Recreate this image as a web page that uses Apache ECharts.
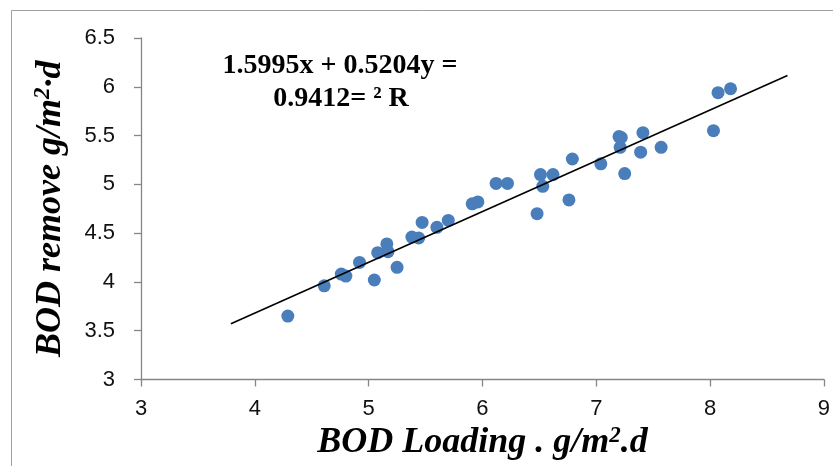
<!DOCTYPE html>
<html><head><meta charset="utf-8">
<script src="https://cdn.jsdelivr.net/npm/echarts@6/dist/echarts.min.js"></script>
<style>html,body{margin:0;padding:0;background:#fff}#c{width:833px;height:466px}</style>
</head><body><div id="c"></div>
<script>
const bodLoading = [4.29,4.61,4.76,4.80,4.92,5.05,5.08,5.16,5.17,5.25,5.38,5.44,5.47,5.60,5.70,5.91,5.96,6.12,6.22,6.48,6.51,6.53,6.62,6.76,6.79,7.04,7.20,7.22,7.21,7.25,7.39,7.41,7.57,8.03,8.07,8.18];
const bodRemove  = [3.65,3.96,4.08,4.06,4.20,4.02,4.30,4.39,4.31,4.15,4.46,4.45,4.61,4.56,4.63,4.80,4.82,5.01,5.01,4.70,5.10,4.98,5.10,4.84,5.26,5.21,5.49,5.48,5.38,5.11,5.33,5.53,5.38,5.55,5.94,5.98];
const trendSlope = 0.5204;
const trendIntercept = 1.5995;
const trendRange = [3.79, 8.68];
const xTicks = [3,4,5,6,7,8,9];
const yTicks = [3,3.5,4,4.5,5,5.5,6,6.5];
const eqLine1 = '1.5995x + 0.5204y =';
const eqLine2 = '0.9412= ² R';

const points = bodLoading.map((x,i)=>[x, bodRemove[i]]);
const trend = trendRange.map(x=>[x, trendSlope*x + trendIntercept]);

const chart = echarts.init(document.getElementById('c'));
const titleRich = {
  t:{fontFamily:'Liberation Serif',fontWeight:'bold',fontStyle:'italic',fontSize:36,color:'#000'},
  s:{fontFamily:'Liberation Serif',fontWeight:'bold',fontStyle:'italic',fontSize:23,color:'#000',verticalAlign:'top',padding:[0,0,14,0]}
};
const eqStyle = {fontFamily:'Liberation Serif',fontWeight:'bold',fontSize:28,fill:'#000',align:'center',verticalAlign:'middle'};
chart.setOption({
  animation:false,
  grid:{left:141,top:38,width:684,height:343},
  graphic:[
    {type:'rect',shape:{x:11.5,y:10.5,width:840,height:470},style:{fill:'none',stroke:'#a0a0a0',lineWidth:1},silent:true},
    {type:'text',x:340,y:66,style:Object.assign({text:eqLine1},eqStyle),silent:true},
    {type:'text',x:341,y:99,style:Object.assign({text:eqLine2},eqStyle),silent:true}
  ],
  xAxis:{type:'value',min:xTicks[0],max:xTicks[xTicks.length-1],interval:1,
    axisLine:{show:true,lineStyle:{color:'#868686',width:1.3}},
    axisTick:{show:true,inside:false,length:7,lineStyle:{color:'#868686',width:1.3}},
    splitLine:{show:false},
    axisLabel:{fontFamily:'Liberation Sans',fontSize:22,color:'#111',margin:18},
    name:'{t|BOD Loading . g/m}{s|2}{t|.d}',nameLocation:'middle',nameGap:45,
    nameTextStyle:{rich:titleRich}
  },
  yAxis:{type:'value',min:yTicks[0],max:yTicks[yTicks.length-1],interval:0.5,
    axisLine:{show:true,onZero:false,lineStyle:{color:'#868686',width:1.3}},
    axisTick:{show:true,inside:false,length:7,lineStyle:{color:'#868686',width:1.3}},
    splitLine:{show:false},
    axisLabel:{fontFamily:'Liberation Sans',fontSize:22,color:'#111',margin:26,formatter:v=>String(v)},
    name:'{t|BOD remove g/m}{s|2}{t|·d}',nameLocation:'middle',nameGap:72,nameRotate:90,
    nameTextStyle:{rich:titleRich}
  },
  series:[
    {type:'scatter',data:points,symbol:'circle',symbolSize:13,itemStyle:{color:'#4a7ebb',opacity:1},z:2},
    {type:'line',data:trend,showSymbol:false,lineStyle:{color:'#000',width:1.6},z:3}
  ]
});
</script></body></html>
